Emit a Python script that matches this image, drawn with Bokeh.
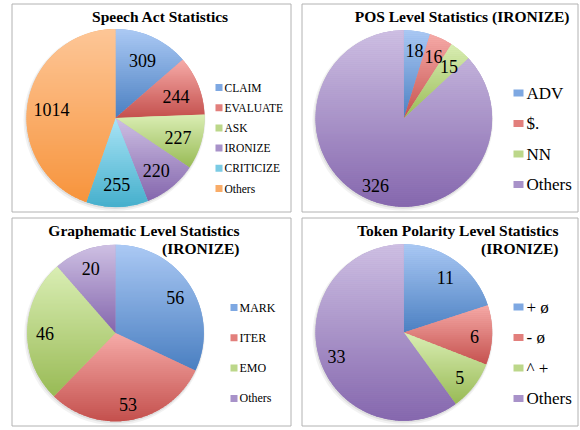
import numpy as np
from bokeh.plotting import figure
from bokeh.models import Range1d, ColumnDataSource
from bokeh.core.properties import value
from bokeh.embed import file_html
from bokeh.resources import INLINE

# ---------------- data ----------------
speech_labels = ["CLAIM", "EVALUATE", "ASK", "IRONIZE", "CRITICIZE", "Others"]
speech_values = [309, 244, 227, 220, 255, 1014]

pos_labels = ["ADV", "$.", "NN", "Others"]
pos_values = [18, 16, 15, 326]

graph_labels = ["MARK", "ITER", "EMO", "Others"]
graph_values = [56, 53, 46, 20]

token_labels = ["+ ø", "- ø", "^ +", "Others"]
token_values = [11, 6, 5, 33]

# ---------------- styling ----------------
PAL = {  # top, mid, bottom of each slice's gradient
    "blue":   ("#abc9f4", "#7ea8e2", "#4a7fc1"),
    "red":    ("#f6aba8", "#e27f7c", "#c4504d"),
    "green":  ("#daeeb4", "#bcd78a", "#98ba55"),
    "purple": ("#cec0e3", "#a892c9", "#8466ad"),
    "aqua":   ("#a9e4f6", "#7bcbe4", "#45afcc"),
    "orange": ("#fdc697", "#f9ac68", "#f7943c"),
}
speech_colors = ["blue", "red", "green", "purple", "aqua", "orange"]
four_colors = ["blue", "red", "green", "purple"]

W, H = 580, 430
SERIF = value("Liberation Serif")


def Y(py):
    return H - py


p = figure(width=W, height=H, x_range=Range1d(0, W), y_range=Range1d(0, H),
           output_backend="svg", toolbar_location=None,
           x_axis_type=None, y_axis_type=None, min_border=0,
           background_fill_color="white", border_fill_color="white")
p.grid.visible = False
p.outline_line_color = None


def hex2rgb(h):
    h = h.lstrip("#")
    return np.array([int(h[i:i + 2], 16) for i in (0, 2, 4)], dtype=float)


def lerp_color(c1, c2, t):
    c = hex2rgb(c1) * (1 - t) + hex2rgb(c2) * t
    return "#%02x%02x%02x" % tuple(int(round(v)) for v in c)


def clip_half(pts, bound, keep_above):
    out = []
    n = len(pts)
    for i in range(n):
        x1, y1 = pts[i - 1]
        x2, y2 = pts[i]
        in1 = (y1 >= bound) if keep_above else (y1 <= bound)
        in2 = (y2 >= bound) if keep_above else (y2 <= bound)
        if in2:
            if not in1:
                t = (bound - y1) / (y2 - y1)
                out.append((x1 + t * (x2 - x1), bound))
            out.append((x2, y2))
        elif in1:
            t = (bound - y1) / (y2 - y1)
            out.append((x1 + t * (x2 - x1), bound))
    return out


def draw_pie(cx, cy, r, values, colors, label_frac):
    vals = np.asarray(values, dtype=float)
    ends = np.cumsum(vals) / vals.sum() * 360.0
    starts = np.r_[0.0, ends[:-1]]
    # soft shadow
    p.circle(x=[cx - 1.0], y=[cy - 2.0], radius=r + 2.0, fill_color="black",
             fill_alpha=0.05, line_color=None)
    p.circle(x=[cx - 0.5], y=[cy - 1.2], radius=r + 0.8, fill_color="black",
             fill_alpha=0.08, line_color=None)
    # base wedges (clockwise from 12 o'clock)
    src = ColumnDataSource(dict(
        s=90.0 - starts, e=90.0 - ends,
        c=[PAL[c][1] for c in colors]))
    p.wedge(x=cx, y=cy, radius=r, start_angle="s", end_angle="e",
            start_angle_units="deg", end_angle_units="deg", direction="clock",
            fill_color="c", line_color=None, source=src)
    # vertical gradient bands per slice
    bxs, bys, bcs = [], [], []
    for a0, a1, cname in zip(starts, ends, colors):
        top, _, bot = PAL[cname]
        ts = np.linspace(a0, a1, max(8, int((a1 - a0) * 1.5)))
        px = np.r_[cx, cx + r * np.sin(np.radians(ts))]
        py = np.r_[cy, cy + r * np.cos(np.radians(ts))]
        pts = list(zip(px, py))
        ymax, ymin = py.max(), py.min()
        step = 2.0
        hi = ymax
        while hi > ymin:
            lo = hi - step
            band = clip_half(pts, lo - 0.6, True)
            if band:
                band = clip_half(band, hi, False)
            if len(band) >= 3:
                t = (ymax - (lo + hi) / 2) / (ymax - ymin)
                t = min(max(t, 0.0), 1.0)
                bxs.append([b[0] for b in band])
                bys.append([b[1] for b in band])
                bcs.append(lerp_color(top, bot, t))
            hi = lo
    p.patches(xs="xs", ys="ys", fill_color="c", line_color=None,
              source=ColumnDataSource(dict(xs=bxs, ys=bys, c=bcs)))
    # value labels
    mids = np.radians((starts + ends) / 2)
    lx = cx + label_frac * r * np.sin(mids)
    ly = cy + label_frac * r * np.cos(mids) - 2
    p.text(x=lx, y=ly, text=[str(v) for v in values], text_font=SERIF,
           text_font_size="18px", text_color="black", text_align="center",
           text_baseline="middle")


def draw_legend(labels, colors, sq_x, sq_w, sq_h, txt_x, y0, dy, fsize):
    ys = [Y(y0 + i * dy) for i in range(len(labels))]
    p.rect(x=[sq_x + sq_w / 2] * len(labels), y=ys, width=sq_w, height=sq_h,
           fill_color=[PAL[c][1] for c in colors], line_color=None)
    p.text(x=[txt_x] * len(labels), y=ys, text=labels, text_font=SERIF,
           text_font_size=fsize, text_color="black", text_align="left",
           text_baseline="middle")


def draw_box(x0, x1, y0, y1):
    p.quad(left=[x0], right=[x1], top=[Y(y0)], bottom=[Y(y1)],
           fill_color=None, line_color="#b2b2b2", line_width=1)


# panel frames
draw_box(11.5, 290.5, 3.5, 211.5)
draw_box(301.5, 577.5, 3.5, 211.5)
draw_box(11.5, 290.5, 217.5, 425.5)
draw_box(301.5, 577.5, 217.5, 425.5)

TITLE = dict(text_font=SERIF, text_font_size="15.5px", text_font_style="bold",
             text_color="black", text_baseline="middle")

# Panel 1: Speech Act Statistics
draw_pie(115, Y(117.5), 89, speech_values, speech_colors, 0.73)
p.text(x=[160], y=[Y(16)], text=["Speech Act Statistics"], text_align="center", **TITLE)
draw_legend(speech_labels, speech_colors, 215, 7, 7, 224, 87, 20.2, "11.5px")

# Panel 2: POS Level Statistics
draw_pie(403.3, Y(118), 88.3, pos_values, four_colors, 0.8)
p.text(x=[569], y=[Y(16)], text=["POS Level Statistics (IRONIZE)"], text_align="right", **TITLE)
draw_legend(pos_labels, four_colors, 513, 10, 7, 526, 92.5, 30.5, "17px")

# Panel 3: Graphematic Level Statistics
draw_pie(115, Y(332.5), 88.3, graph_values, four_colors, 0.8)
p.text(x=[239, 239], y=[Y(230), Y(248)],
       text=["Graphematic Level Statistics", "(IRONIZE)"], text_align="right", **TITLE)
draw_legend(graph_labels, four_colors, 230, 7, 7, 239, 307, 30.3, "12px")

# Panel 4: Token Polarity Level Statistics
draw_pie(403.3, Y(332), 88.3, token_values, four_colors, 0.8)
p.text(x=[558, 558], y=[Y(230), Y(248)],
       text=["Token Polarity Level Statistics", "(IRONIZE)"], text_align="right", **TITLE)
draw_legend(token_labels, four_colors, 513, 10, 7, 526, 306.5, 30.5, "17px")

open("out.html", "w").write(file_html(p, INLINE))
